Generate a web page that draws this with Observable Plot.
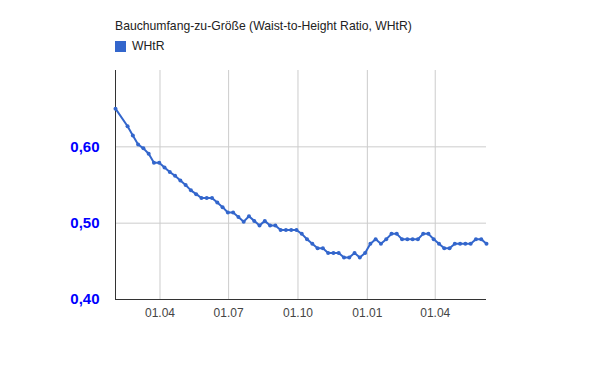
<!DOCTYPE html>
<html><head><meta charset="utf-8">
<script src="https://cdn.jsdelivr.net/npm/d3@7"></script>
<script src="https://cdn.jsdelivr.net/npm/@observablehq/plot@0.6"></script>
<style>
body{margin:0;background:#fff;font-family:Arial,"Liberation Sans",sans-serif;}
#wrap{position:relative;width:600px;}
#head{position:relative;height:55px;}
#title{position:absolute;left:115px;top:19px;font-size:12.2px;line-height:14px;color:#222;white-space:nowrap;}
#leg{position:absolute;left:115px;top:41px;height:11px;font-size:12.2px;line-height:11px;color:#222;display:flex;align-items:center;white-space:nowrap;}
#leg .sw{display:inline-block;width:11px;height:11px;background:#3366cc;margin-right:6px;}
svg{display:block;}
</style></head>
<body>
<div id="wrap">
  <div id="head">
    <div id="title">Bauchumfang-zu-Größe (Waist-to-Height Ratio, WHtR)</div>
    <div id="leg"><span class="sw"></span>WHtR</div>
  </div>
  <div id="chart"></div>
</div>
<script>
const seriesName = "WHtR";
const dates = [
  "2012-02-02","2012-02-18","2012-02-25","2012-03-03","2012-03-10","2012-03-17","2012-03-24","2012-03-31",
  "2012-04-07","2012-04-14","2012-04-21","2012-04-28","2012-05-05","2012-05-12","2012-05-19","2012-05-26",
  "2012-06-02","2012-06-09","2012-06-16","2012-06-23","2012-06-30","2012-07-07","2012-07-14","2012-07-21",
  "2012-07-28","2012-08-04","2012-08-11","2012-08-18","2012-08-25","2012-09-01","2012-09-08","2012-09-15",
  "2012-09-22","2012-09-29","2012-10-06","2012-10-13","2012-10-20","2012-10-27","2012-11-03","2012-11-10",
  "2012-11-17","2012-11-24","2012-12-01","2012-12-08","2012-12-15","2012-12-22","2012-12-29","2013-01-05",
  "2013-01-12","2013-01-19","2013-01-26","2013-02-02","2013-02-09","2013-02-16","2013-02-23","2013-03-02",
  "2013-03-09","2013-03-16","2013-03-23","2013-03-30","2013-04-06","2013-04-13","2013-04-20","2013-04-27",
  "2013-05-04","2013-05-11","2013-05-18","2013-05-25","2013-06-01","2013-06-08"
];
const whtr = [
  0.650,0.627,0.615,0.603,0.598,0.591,0.579,0.579,
  0.573,0.567,0.562,0.556,0.550,0.543,0.538,0.533,
  0.533,0.533,0.527,0.521,0.514,0.514,0.508,0.502,
  0.509,0.503,0.497,0.503,0.497,0.497,0.491,0.491,
  0.491,0.491,0.486,0.479,0.473,0.467,0.467,0.461,
  0.461,0.461,0.455,0.455,0.461,0.455,0.461,0.473,
  0.479,0.473,0.479,0.486,0.486,0.479,0.479,0.479,
  0.479,0.486,0.486,0.479,0.473,0.467,0.467,0.473,
  0.473,0.473,0.473,0.479,0.479,0.473
];
const xTicks = ["2012-04-01","2012-07-01","2012-10-01","2013-01-01","2013-04-01"];
const yTicks = [0.40, 0.50, 0.60];
const yDomain = [0.40, 0.70];

const data = dates.map((d, i) => ({date: new Date(d), value: whtr[i]}));
const xT = xTicks.map(d => new Date(d));
const color = "#3366cc";

const chart = Plot.plot({
  width: 600,
  height: 316,
  marginTop: 15,
  marginBottom: 72,
  marginLeft: 115,
  marginRight: 114,
  style: {fontFamily: "Arial, 'Liberation Sans', sans-serif", background: "#fff"},
  x: {type: "utc", domain: [data[0].date, data[data.length - 1].date]},
  y: {domain: yDomain},
  marks: [
    Plot.ruleX(xT, {stroke: "#cccccc", strokeOpacity: 1}),
    Plot.ruleY(yTicks.slice(1), {stroke: "#cccccc", strokeOpacity: 1}),
    Plot.axisX({ticks: xT, tickFormat: d3.utcFormat("%d.%m"), tickSize: 0, tickPadding: 9, fontSize: 12, fill: "#444", label: null}),
    Plot.axisY({ticks: yTicks, tickFormat: d => d.toFixed(2).replace(".", ","), tickSize: 0, tickPadding: 16, fontSize: 15, fontWeight: "bold", fill: "#0000ff", label: null}),
    Plot.ruleY([yDomain[0]], {stroke: "#333", strokeWidth: 1}),
    Plot.ruleX([data[0].date], {stroke: "#333", strokeWidth: 1}),
    Plot.line(data, {x: "date", y: "value", stroke: color, strokeWidth: 2}),
    Plot.dot(data, {x: "date", y: "value", r: 2, fill: color, stroke: null})
  ]
});
document.getElementById("chart").appendChild(chart);
</script>
</body></html>
